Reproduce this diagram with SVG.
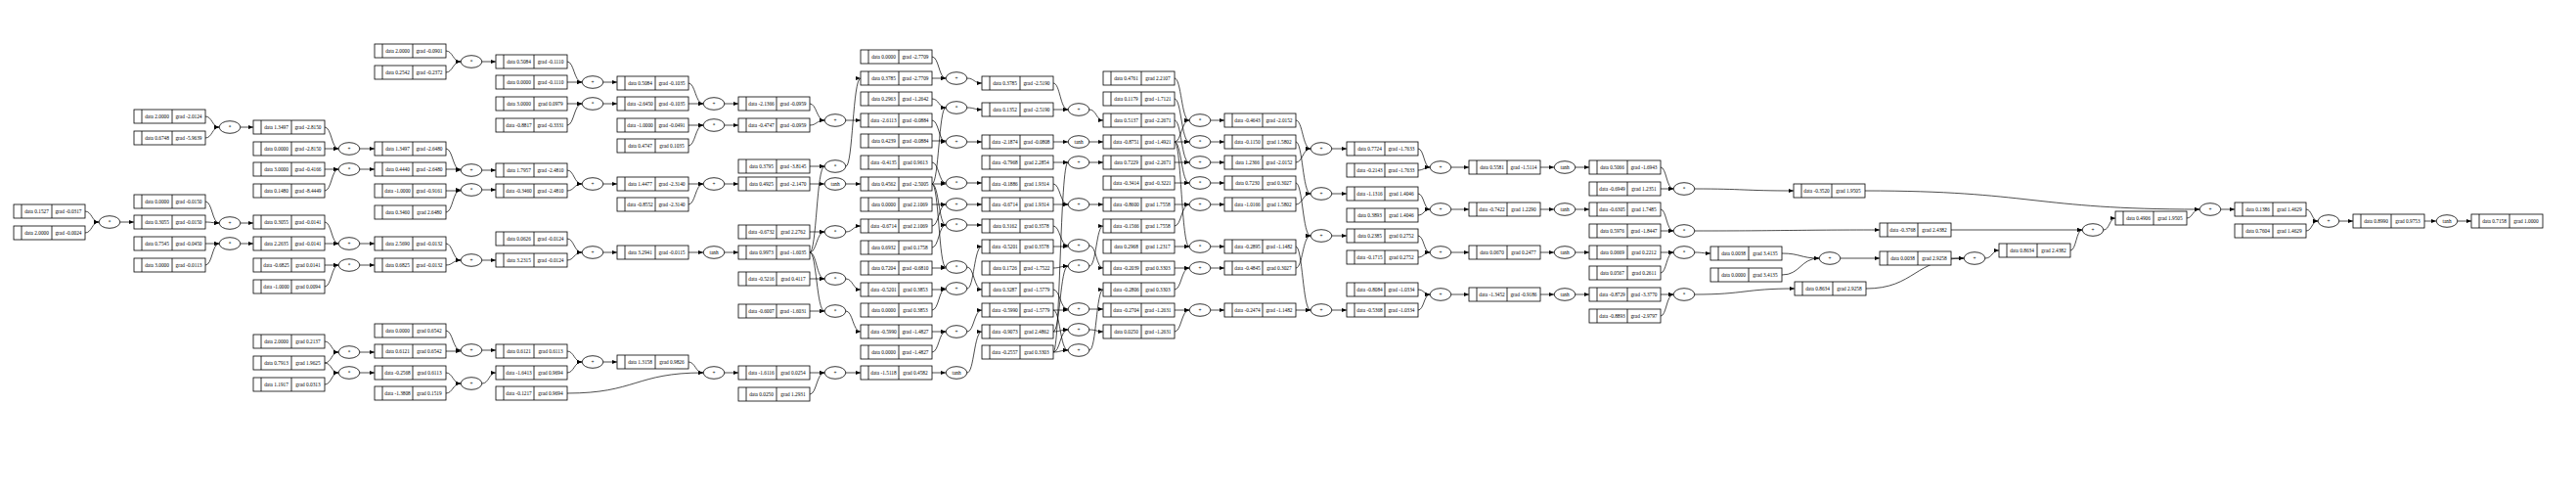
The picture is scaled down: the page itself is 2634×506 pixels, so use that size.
<svg xmlns="http://www.w3.org/2000/svg" xmlns:xlink="http://www.w3.org/1999/xlink" width="2634" height="506" viewBox="0 0 2634 506">
<style>
text{font-family:"Liberation Serif","Times New Roman",serif;font-size:5.3px;text-anchor:middle;fill:#000}
ellipse{fill:#fff;stroke:#000;stroke-width:.8}
#edges path{fill:none;stroke:#000;stroke-width:.7;marker-end:url(#a)}
</style>
<defs>
<marker id="a" markerWidth="5" markerHeight="4" refX="5" refY="2" orient="auto" markerUnits="userSpaceOnUse"><path d="M0 0L5 2L0 4z" fill="#000"/></marker>
<g id="rec"><rect width="73" height="14" fill="#fff" stroke="#000" stroke-width=".8"/><path d="M8 0v14M39 0v14" stroke="#000" stroke-width=".8"/></g>
</defs>
<rect width="2634" height="506" fill="#fff"/>
<g id="edges">
<path d="M87 216C94 216 94 227 101 227"/><path d="M87 238C94 238 94 227 101 227"/><path d="M123 227H137"/>
<path d="M210 119C217 119 217 130 224 130"/><path d="M210 141C217 141 217 130 224 130"/><path d="M246 130H259"/>
<path d="M210 206C217 206 217 228 224 228"/><path d="M210 227C217 227 217 228 224 228"/><path d="M246 228H259"/>
<path d="M210 249H224"/><path d="M210 271C217 271 217 249 224 249"/><path d="M246 249H259"/>
<path d="M332 130C339 130 339 152 346 152"/><path d="M332 152H346"/><path d="M368 152H383"/>
<path d="M332 173H346"/><path d="M332 195C339 195 339 173 346 173"/><path d="M368 173H383"/>
<path d="M332 227C339 227 339 249 346 249"/><path d="M332 249H346"/><path d="M368 249H383"/>
<path d="M332 271H346"/><path d="M332 293C339 293 339 271 346 271"/><path d="M368 271H383"/>
<path d="M332 349C339 349 339 360 346 360"/><path d="M332 371C339 371 339 360 346 360"/><path d="M368 360H383"/>
<path d="M332 371C339 371 339 381 346 381"/><path d="M332 393C339 393 339 381 346 381"/><path d="M368 381H383"/>
<path d="M456 52C463 52 463 63 471 63"/><path d="M456 74C463 74 463 63 471 63"/><path d="M493 63H507"/>
<path d="M456 152C463 152 463 174 471 174"/><path d="M456 173H471"/><path d="M493 174H507"/>
<path d="M456 195H471"/><path d="M456 217C463 217 463 194 471 194"/><path d="M493 194H507"/>
<path d="M456 249C463 249 463 266 471 266"/><path d="M456 271C463 271 463 266 471 266"/><path d="M493 266H507"/>
<path d="M456 338C463 338 463 358 471 358"/><path d="M456 359H471"/><path d="M493 358H507"/>
<path d="M456 381C463 381 463 392 471 392"/><path d="M456 402C463 402 463 392 471 392"/><path d="M493 392C500 392 500 381 507 381"/>
<path d="M580 63C587 63 587 84 595 84"/><path d="M580 84H595"/><path d="M617 84H631"/>
<path d="M580 106H595"/><path d="M580 128C587 128 587 106 595 106"/><path d="M617 106H631"/>
<path d="M580 174C587 174 587 188 595 188"/><path d="M580 195C587 195 587 188 595 188"/><path d="M617 188H631"/>
<path d="M580 244C587 244 587 258 595 258"/><path d="M580 266C587 266 587 258 595 258"/><path d="M617 258H631"/>
<path d="M580 359C587 359 587 370 595 370"/><path d="M580 381C587 381 587 370 595 370"/><path d="M617 370H631"/>
<path d="M704 85C711 85 711 106 719 106"/><path d="M704 106H719"/><path d="M741 106H755"/>
<path d="M704 128H719"/><path d="M704 149C711 149 711 128 719 128"/><path d="M741 128H755"/>
<path d="M704 188H719"/><path d="M704 209C711 209 711 188 719 188"/><path d="M741 188H755"/>
<path d="M704 258H719"/><path d="M741 258H755"/>
<path d="M704 370C711 370 711 381 719 381"/><path d="M580 402C650 402 650 381 719 381"/><path d="M741 381H755"/>
<path d="M828 106C835 106 835 123 843 123"/><path d="M828 128C835 128 835 123 843 123"/><path d="M865 123H880"/>
<path d="M828 170H843"/><path d="M828 258C835 258 835 170 843 170"/><path d="M865 170C872 170 872 80 880 80"/>
<path d="M828 188H843"/><path d="M865 188H880"/>
<path d="M828 237H843"/><path d="M828 258C835 258 835 237 843 237"/><path d="M865 237C872 237 872 231 880 231"/>
<path d="M828 285H843"/><path d="M828 258C835 258 835 285 843 285"/><path d="M865 285C872 285 872 296 880 296"/>
<path d="M828 318H843"/><path d="M828 258C835 258 835 318 843 318"/><path d="M865 318C872 318 872 339 880 339"/>
<path d="M828 381H843"/><path d="M828 403C835 403 835 381 843 381"/><path d="M865 381H880"/>
<path d="M953 58C960 58 960 80 967 80"/><path d="M953 80H967"/><path d="M989 80C996 80 996 85 1004 85"/>
<path d="M953 101C960 101 960 110 967 110"/><path d="M953 188C960 188 960 110 967 110"/><path d="M989 110C996 110 996 112 1004 112"/>
<path d="M953 123C960 123 960 145 967 145"/><path d="M953 144H967"/><path d="M989 145H1004"/>
<path d="M953 166C960 166 960 187 967 187"/><path d="M953 188H967"/><path d="M989 187H1004"/>
<path d="M953 209H967"/><path d="M953 231C960 231 960 209 967 209"/><path d="M989 209H1004"/>
<path d="M953 188C960 188 960 230 967 230"/><path d="M953 253C960 253 960 230 967 230"/><path d="M989 230H1004"/>
<path d="M953 274H967"/><path d="M953 188C960 188 960 273 967 273"/><path d="M989 273C996 273 996 296 1004 296"/>
<path d="M953 296H967"/><path d="M953 317C960 317 960 295 967 295"/><path d="M989 295C996 295 996 252 1004 252"/>
<path d="M953 339H967"/><path d="M953 360C960 360 960 339 967 339"/><path d="M989 339C996 339 996 317 1004 317"/>
<path d="M953 381H967"/><path d="M989 381C996 381 996 339 1004 339"/>
<path d="M1077 85C1084 85 1084 112 1092 112"/><path d="M1077 112H1092"/><path d="M1114 112C1121 112 1121 123 1128 123"/>
<path d="M1077 145H1092"/><path d="M1114 145H1128"/>
<path d="M1077 166H1092"/><path d="M1077 360C1084 360 1084 166 1092 166"/><path d="M1114 166H1128"/>
<path d="M1077 188C1084 188 1084 209 1092 209"/><path d="M1077 209H1092"/><path d="M1114 209H1128"/>
<path d="M1077 231C1084 231 1084 251 1092 251"/><path d="M1077 252H1092"/><path d="M1114 251C1121 251 1121 274 1128 274"/>
<path d="M1077 274C1084 274 1084 272 1092 272"/><path d="M1077 339C1084 339 1084 272 1092 272"/><path d="M1114 272C1121 272 1121 231 1128 231"/>
<path d="M1077 296C1084 296 1084 316 1092 316"/><path d="M1077 317H1092"/><path d="M1114 316H1128"/>
<path d="M1077 339C1084 339 1084 337 1092 337"/><path d="M1077 360C1084 360 1084 337 1092 337"/><path d="M1114 337C1121 337 1121 339 1128 339"/>
<path d="M1077 317C1084 317 1084 358 1092 358"/><path d="M1077 360C1084 360 1084 358 1092 358"/><path d="M1114 358C1121 358 1121 296 1128 296"/>
<path d="M1201 80C1208 80 1208 123 1216 123"/><path d="M1201 145C1208 145 1208 123 1216 123"/><path d="M1238 123H1252"/>
<path d="M1201 101C1208 101 1208 145 1216 145"/><path d="M1201 145H1216"/><path d="M1238 145H1252"/>
<path d="M1201 123C1208 123 1208 166 1216 166"/><path d="M1201 166H1216"/><path d="M1238 166H1252"/>
<path d="M1201 187H1216"/><path d="M1201 145C1208 145 1208 187 1216 187"/><path d="M1238 187H1252"/>
<path d="M1201 209H1216"/><path d="M1201 231C1208 231 1208 209 1216 209"/><path d="M1238 209H1252"/>
<path d="M1201 252H1216"/><path d="M1201 145C1208 145 1208 252 1216 252"/><path d="M1238 252H1252"/>
<path d="M1201 274H1216"/><path d="M1201 296C1208 296 1208 274 1216 274"/><path d="M1238 274H1252"/>
<path d="M1201 317H1216"/><path d="M1201 339C1208 339 1208 317 1216 317"/><path d="M1238 317H1252"/>
<path d="M1325 123C1332 123 1332 152 1340 152"/><path d="M1325 166C1332 166 1332 152 1340 152"/><path d="M1362 152H1377"/>
<path d="M1325 145C1332 145 1332 198 1340 198"/><path d="M1325 209C1332 209 1332 198 1340 198"/><path d="M1362 198H1377"/>
<path d="M1325 187C1332 187 1332 241 1340 241"/><path d="M1325 274C1332 274 1332 241 1340 241"/><path d="M1362 241H1377"/>
<path d="M1325 252C1332 252 1332 317 1340 317"/><path d="M1325 317H1340"/><path d="M1362 317H1377"/>
<path d="M1450 152C1456 152 1456 171 1462 171"/><path d="M1450 174C1456 174 1456 171 1462 171"/><path d="M1484 171H1502"/>
<path d="M1450 198C1456 198 1456 214 1462 214"/><path d="M1450 220C1456 220 1456 214 1462 214"/><path d="M1484 214H1502"/>
<path d="M1450 241C1456 241 1456 258 1462 258"/><path d="M1450 263C1456 263 1456 258 1462 258"/><path d="M1484 258H1502"/>
<path d="M1450 296C1456 296 1456 301 1462 301"/><path d="M1450 317C1456 317 1456 301 1462 301"/><path d="M1484 301H1502"/>
<path d="M1575 171H1589"/><path d="M1611 171H1625"/>
<path d="M1575 214H1589"/><path d="M1611 214H1625"/>
<path d="M1575 258H1589"/><path d="M1611 258H1625"/>
<path d="M1575 301H1589"/><path d="M1611 301H1625"/>
<path d="M1698 171C1704 171 1704 193 1711 193"/><path d="M1698 193H1711"/><path d="M1733 193C1783 193 1783 195 1834 195"/>
<path d="M1698 214C1704 214 1704 236 1711 236"/><path d="M1698 236H1711"/><path d="M1733 236C1830 236 1830 235 1922 235"/>
<path d="M1698 258H1711"/><path d="M1698 279C1704 279 1704 258 1711 258"/><path d="M1733 258C1741 258 1741 259 1749 259"/>
<path d="M1698 301H1711"/><path d="M1698 323C1704 323 1704 301 1711 301"/><path d="M1733 301C1784 301 1784 295 1835 295"/>
<path d="M1822 259C1841 259 1841 264 1860 264"/><path d="M1822 281C1841 281 1841 264 1860 264"/><path d="M1882 264H1922"/>
<path d="M1995 264H2008"/><path d="M1908 295C1958 295 1958 264 2008 264"/><path d="M2030 264C2037 264 2037 256 2044 256"/>
<path d="M1995 235H2129"/><path d="M2117 256C2123 256 2123 235 2129 235"/><path d="M2151 235C2157 235 2157 223 2163 223"/>
<path d="M1907 195C2078 195 2078 214 2249 214"/><path d="M2236 223C2242 223 2242 214 2249 214"/><path d="M2271 214H2285"/>
<path d="M2358 214C2364 214 2364 226 2370 226"/><path d="M2358 236C2364 236 2364 226 2370 226"/><path d="M2392 226H2406"/>
<path d="M2479 226H2491"/><path d="M2513 226H2527"/>
</g>
<g id="X1" transform="translate(14,209)"><use href="#rec"/><text x="23.5" y="9">data 0.1527</text><text x="56" y="9">grad -0.0317</text></g>
<g id="X2" transform="translate(14,231)"><use href="#rec"/><text x="23.5" y="9">data 2.0000</text><text x="56" y="9">grad -0.0024</text></g>
<g id="A1" transform="translate(137,112)"><use href="#rec"/><text x="23.5" y="9">data 2.0000</text><text x="56" y="9">grad -2.0124</text></g>
<g id="A2" transform="translate(137,134)"><use href="#rec"/><text x="23.5" y="9">data 0.6748</text><text x="56" y="9">grad -5.9639</text></g>
<g id="B1" transform="translate(137,199)"><use href="#rec"/><text x="23.5" y="9">data 0.0000</text><text x="56" y="9">grad -0.0150</text></g>
<g id="B2" transform="translate(137,220)"><use href="#rec"/><text x="23.5" y="9">data 0.3055</text><text x="56" y="9">grad -0.0150</text></g>
<g id="B3" transform="translate(137,242)"><use href="#rec"/><text x="23.5" y="9">data 0.7545</text><text x="56" y="9">grad -0.0450</text></g>
<g id="B4" transform="translate(137,264)"><use href="#rec"/><text x="23.5" y="9">data 3.0000</text><text x="56" y="9">grad -0.0113</text></g>
<g id="C1" transform="translate(259,123)"><use href="#rec"/><text x="23.5" y="9">data 1.3497</text><text x="56" y="9">grad -2.8150</text></g>
<g id="C2" transform="translate(259,145)"><use href="#rec"/><text x="23.5" y="9">data 0.0000</text><text x="56" y="9">grad -2.8150</text></g>
<g id="C3" transform="translate(259,166)"><use href="#rec"/><text x="23.5" y="9">data 3.0000</text><text x="56" y="9">grad -0.4166</text></g>
<g id="C4" transform="translate(259,188)"><use href="#rec"/><text x="23.5" y="9">data 0.1480</text><text x="56" y="9">grad -8.4449</text></g>
<g id="C5" transform="translate(259,220)"><use href="#rec"/><text x="23.5" y="9">data 0.3055</text><text x="56" y="9">grad -0.0141</text></g>
<g id="C6" transform="translate(259,242)"><use href="#rec"/><text x="23.5" y="9">data 2.2635</text><text x="56" y="9">grad -0.0141</text></g>
<g id="C7" transform="translate(259,264)"><use href="#rec"/><text x="23.5" y="9">data -0.6825</text><text x="56" y="9">grad 0.0141</text></g>
<g id="C8" transform="translate(259,286)"><use href="#rec"/><text x="23.5" y="9">data -1.0000</text><text x="56" y="9">grad 0.0094</text></g>
<g id="C9" transform="translate(259,342)"><use href="#rec"/><text x="23.5" y="9">data 2.0000</text><text x="56" y="9">grad 0.2137</text></g>
<g id="C10" transform="translate(259,364)"><use href="#rec"/><text x="23.5" y="9">data 0.7913</text><text x="56" y="9">grad 1.9625</text></g>
<g id="C11" transform="translate(259,386)"><use href="#rec"/><text x="23.5" y="9">data 1.1917</text><text x="56" y="9">grad 0.0313</text></g>
<g id="D1" transform="translate(383,45)"><use href="#rec"/><text x="23.5" y="9">data 2.0000</text><text x="56" y="9">grad -0.0901</text></g>
<g id="D2" transform="translate(383,67)"><use href="#rec"/><text x="23.5" y="9">data 0.2542</text><text x="56" y="9">grad -0.2372</text></g>
<g id="D3" transform="translate(383,145)"><use href="#rec"/><text x="23.5" y="9">data 1.3497</text><text x="56" y="9">grad -2.6480</text></g>
<g id="D4" transform="translate(383,166)"><use href="#rec"/><text x="23.5" y="9">data 0.4440</text><text x="56" y="9">grad -2.6480</text></g>
<g id="D5" transform="translate(383,188)"><use href="#rec"/><text x="23.5" y="9">data -1.0000</text><text x="56" y="9">grad -0.9161</text></g>
<g id="D6" transform="translate(383,210)"><use href="#rec"/><text x="23.5" y="9">data 0.3460</text><text x="56" y="9">grad 2.6480</text></g>
<g id="D7" transform="translate(383,242)"><use href="#rec"/><text x="23.5" y="9">data 2.5690</text><text x="56" y="9">grad -0.0132</text></g>
<g id="D8" transform="translate(383,264)"><use href="#rec"/><text x="23.5" y="9">data 0.6825</text><text x="56" y="9">grad -0.0132</text></g>
<g id="D9" transform="translate(383,331)"><use href="#rec"/><text x="23.5" y="9">data 0.0000</text><text x="56" y="9">grad 0.6542</text></g>
<g id="D10" transform="translate(383,352)"><use href="#rec"/><text x="23.5" y="9">data 0.6121</text><text x="56" y="9">grad 0.6542</text></g>
<g id="D11" transform="translate(383,374)"><use href="#rec"/><text x="23.5" y="9">data -0.2568</text><text x="56" y="9">grad 0.6113</text></g>
<g id="D12" transform="translate(383,395)"><use href="#rec"/><text x="23.5" y="9">data -1.3808</text><text x="56" y="9">grad 0.1519</text></g>
<g id="E1" transform="translate(507,56)"><use href="#rec"/><text x="23.5" y="9">data 0.5084</text><text x="56" y="9">grad -0.1110</text></g>
<g id="E2" transform="translate(507,77)"><use href="#rec"/><text x="23.5" y="9">data 0.0000</text><text x="56" y="9">grad -0.1110</text></g>
<g id="E3" transform="translate(507,99)"><use href="#rec"/><text x="23.5" y="9">data 3.0000</text><text x="56" y="9">grad 0.0979</text></g>
<g id="E4" transform="translate(507,121)"><use href="#rec"/><text x="23.5" y="9">data -0.8817</text><text x="56" y="9">grad -0.3331</text></g>
<g id="E5" transform="translate(507,167)"><use href="#rec"/><text x="23.5" y="9">data 1.7957</text><text x="56" y="9">grad -2.4810</text></g>
<g id="E6" transform="translate(507,188)"><use href="#rec"/><text x="23.5" y="9">data -0.3460</text><text x="56" y="9">grad -2.4810</text></g>
<g id="E7" transform="translate(507,237)"><use href="#rec"/><text x="23.5" y="9">data 0.0626</text><text x="56" y="9">grad -0.0124</text></g>
<g id="E8" transform="translate(507,259)"><use href="#rec"/><text x="23.5" y="9">data 3.2315</text><text x="56" y="9">grad -0.0124</text></g>
<g id="E9" transform="translate(507,352)"><use href="#rec"/><text x="23.5" y="9">data 0.6121</text><text x="56" y="9">grad 0.6113</text></g>
<g id="E10" transform="translate(507,374)"><use href="#rec"/><text x="23.5" y="9">data -1.6413</text><text x="56" y="9">grad 0.9694</text></g>
<g id="E11" transform="translate(507,395)"><use href="#rec"/><text x="23.5" y="9">data -0.1217</text><text x="56" y="9">grad 0.9694</text></g>
<g id="F1" transform="translate(631,78)"><use href="#rec"/><text x="23.5" y="9">data 0.5084</text><text x="56" y="9">grad -0.1035</text></g>
<g id="F2" transform="translate(631,99)"><use href="#rec"/><text x="23.5" y="9">data -2.6450</text><text x="56" y="9">grad -0.1035</text></g>
<g id="F3" transform="translate(631,121)"><use href="#rec"/><text x="23.5" y="9">data -1.0000</text><text x="56" y="9">grad -0.0491</text></g>
<g id="F4" transform="translate(631,142)"><use href="#rec"/><text x="23.5" y="9">data 0.4747</text><text x="56" y="9">grad 0.1035</text></g>
<g id="F5" transform="translate(631,181)"><use href="#rec"/><text x="23.5" y="9">data 1.4477</text><text x="56" y="9">grad -2.3140</text></g>
<g id="F6" transform="translate(631,202)"><use href="#rec"/><text x="23.5" y="9">data -0.8552</text><text x="56" y="9">grad -2.3140</text></g>
<g id="F7" transform="translate(631,251)"><use href="#rec"/><text x="23.5" y="9">data 3.2941</text><text x="56" y="9">grad -0.0115</text></g>
<g id="F8" transform="translate(631,363)"><use href="#rec"/><text x="23.5" y="9">data 1.3158</text><text x="56" y="9">grad 0.9826</text></g>
<g id="G1" transform="translate(755,99)"><use href="#rec"/><text x="23.5" y="9">data -2.1366</text><text x="56" y="9">grad -0.0959</text></g>
<g id="G2" transform="translate(755,121)"><use href="#rec"/><text x="23.5" y="9">data -0.4747</text><text x="56" y="9">grad -0.0959</text></g>
<g id="G3" transform="translate(755,163)"><use href="#rec"/><text x="23.5" y="9">data 0.3795</text><text x="56" y="9">grad -3.8145</text></g>
<g id="G4" transform="translate(755,181)"><use href="#rec"/><text x="23.5" y="9">data 0.4925</text><text x="56" y="9">grad -2.1470</text></g>
<g id="G5" transform="translate(755,230)"><use href="#rec"/><text x="23.5" y="9">data -0.6732</text><text x="56" y="9">grad 2.2762</text></g>
<g id="G6" transform="translate(755,251)"><use href="#rec"/><text x="23.5" y="9">data 0.9973</text><text x="56" y="9">grad -1.6035</text></g>
<g id="G7" transform="translate(755,278)"><use href="#rec"/><text x="23.5" y="9">data -0.5216</text><text x="56" y="9">grad 0.4117</text></g>
<g id="G8" transform="translate(755,311)"><use href="#rec"/><text x="23.5" y="9">data -0.6007</text><text x="56" y="9">grad -1.6031</text></g>
<g id="G9" transform="translate(755,374)"><use href="#rec"/><text x="23.5" y="9">data -1.6116</text><text x="56" y="9">grad 0.0254</text></g>
<g id="G10" transform="translate(755,396)"><use href="#rec"/><text x="23.5" y="9">data 0.0250</text><text x="56" y="9">grad 1.2931</text></g>
<g id="H1" transform="translate(880,51)"><use href="#rec"/><text x="23.5" y="9">data 0.0000</text><text x="56" y="9">grad -2.7709</text></g>
<g id="H2" transform="translate(880,73)"><use href="#rec"/><text x="23.5" y="9">data 0.3785</text><text x="56" y="9">grad -2.7709</text></g>
<g id="H3" transform="translate(880,94)"><use href="#rec"/><text x="23.5" y="9">data 0.2963</text><text x="56" y="9">grad -1.2642</text></g>
<g id="H4" transform="translate(880,116)"><use href="#rec"/><text x="23.5" y="9">data -2.6113</text><text x="56" y="9">grad -0.0884</text></g>
<g id="H5" transform="translate(880,137)"><use href="#rec"/><text x="23.5" y="9">data 0.4239</text><text x="56" y="9">grad -0.0884</text></g>
<g id="H6" transform="translate(880,159)"><use href="#rec"/><text x="23.5" y="9">data -0.4135</text><text x="56" y="9">grad 0.9613</text></g>
<g id="H7" transform="translate(880,181)"><use href="#rec"/><text x="23.5" y="9">data 0.4562</text><text x="56" y="9">grad -2.5005</text></g>
<g id="H8" transform="translate(880,202)"><use href="#rec"/><text x="23.5" y="9">data 0.0000</text><text x="56" y="9">grad 2.1069</text></g>
<g id="H9" transform="translate(880,224)"><use href="#rec"/><text x="23.5" y="9">data -0.6714</text><text x="56" y="9">grad 2.1069</text></g>
<g id="H10" transform="translate(880,246)"><use href="#rec"/><text x="23.5" y="9">data 0.6932</text><text x="56" y="9">grad 0.1758</text></g>
<g id="H11" transform="translate(880,267)"><use href="#rec"/><text x="23.5" y="9">data 0.7204</text><text x="56" y="9">grad -0.6810</text></g>
<g id="H12" transform="translate(880,289)"><use href="#rec"/><text x="23.5" y="9">data -0.5201</text><text x="56" y="9">grad 0.3853</text></g>
<g id="H13" transform="translate(880,310)"><use href="#rec"/><text x="23.5" y="9">data 0.0000</text><text x="56" y="9">grad 0.3853</text></g>
<g id="H14" transform="translate(880,332)"><use href="#rec"/><text x="23.5" y="9">data -0.5990</text><text x="56" y="9">grad -1.4827</text></g>
<g id="H15" transform="translate(880,353)"><use href="#rec"/><text x="23.5" y="9">data 0.0000</text><text x="56" y="9">grad -1.4827</text></g>
<g id="H16" transform="translate(880,374)"><use href="#rec"/><text x="23.5" y="9">data -1.5118</text><text x="56" y="9">grad 0.4582</text></g>
<g id="I1" transform="translate(1004,78)"><use href="#rec"/><text x="23.5" y="9">data 0.3785</text><text x="56" y="9">grad -2.5190</text></g>
<g id="I2" transform="translate(1004,105)"><use href="#rec"/><text x="23.5" y="9">data 0.1352</text><text x="56" y="9">grad -2.5190</text></g>
<g id="I3" transform="translate(1004,138)"><use href="#rec"/><text x="23.5" y="9">data -2.1874</text><text x="56" y="9">grad -0.0808</text></g>
<g id="I4" transform="translate(1004,159)"><use href="#rec"/><text x="23.5" y="9">data -0.7968</text><text x="56" y="9">grad 2.2854</text></g>
<g id="I5" transform="translate(1004,181)"><use href="#rec"/><text x="23.5" y="9">data -0.1886</text><text x="56" y="9">grad 1.9314</text></g>
<g id="I6" transform="translate(1004,202)"><use href="#rec"/><text x="23.5" y="9">data -0.6714</text><text x="56" y="9">grad 1.9314</text></g>
<g id="I7" transform="translate(1004,224)"><use href="#rec"/><text x="23.5" y="9">data 0.3162</text><text x="56" y="9">grad 0.3578</text></g>
<g id="I8" transform="translate(1004,245)"><use href="#rec"/><text x="23.5" y="9">data -0.5201</text><text x="56" y="9">grad 0.3578</text></g>
<g id="I9" transform="translate(1004,267)"><use href="#rec"/><text x="23.5" y="9">data 0.1726</text><text x="56" y="9">grad -1.7522</text></g>
<g id="I10" transform="translate(1004,289)"><use href="#rec"/><text x="23.5" y="9">data 0.3287</text><text x="56" y="9">grad -1.5779</text></g>
<g id="I11" transform="translate(1004,310)"><use href="#rec"/><text x="23.5" y="9">data -0.5990</text><text x="56" y="9">grad -1.5779</text></g>
<g id="I12" transform="translate(1004,332)"><use href="#rec"/><text x="23.5" y="9">data -0.9073</text><text x="56" y="9">grad 2.4862</text></g>
<g id="I13" transform="translate(1004,353)"><use href="#rec"/><text x="23.5" y="9">data -0.2557</text><text x="56" y="9">grad 0.3303</text></g>
<g id="J1" transform="translate(1128,73)"><use href="#rec"/><text x="23.5" y="9">data 0.4761</text><text x="56" y="9">grad 2.2107</text></g>
<g id="J2" transform="translate(1128,94)"><use href="#rec"/><text x="23.5" y="9">data 0.1179</text><text x="56" y="9">grad -1.7121</text></g>
<g id="J3" transform="translate(1128,116)"><use href="#rec"/><text x="23.5" y="9">data 0.5137</text><text x="56" y="9">grad -2.2671</text></g>
<g id="J4" transform="translate(1128,138)"><use href="#rec"/><text x="23.5" y="9">data -0.8751</text><text x="56" y="9">grad -1.4921</text></g>
<g id="J5" transform="translate(1128,159)"><use href="#rec"/><text x="23.5" y="9">data 0.7229</text><text x="56" y="9">grad -2.2671</text></g>
<g id="J6" transform="translate(1128,180)"><use href="#rec"/><text x="23.5" y="9">data -0.3414</text><text x="56" y="9">grad -0.3221</text></g>
<g id="J7" transform="translate(1128,202)"><use href="#rec"/><text x="23.5" y="9">data -0.8600</text><text x="56" y="9">grad 1.7558</text></g>
<g id="J8" transform="translate(1128,224)"><use href="#rec"/><text x="23.5" y="9">data -0.1566</text><text x="56" y="9">grad 1.7558</text></g>
<g id="J9" transform="translate(1128,245)"><use href="#rec"/><text x="23.5" y="9">data 0.2968</text><text x="56" y="9">grad 1.2317</text></g>
<g id="J10" transform="translate(1128,267)"><use href="#rec"/><text x="23.5" y="9">data -0.2039</text><text x="56" y="9">grad 0.3303</text></g>
<g id="J11" transform="translate(1128,289)"><use href="#rec"/><text x="23.5" y="9">data -0.2806</text><text x="56" y="9">grad 0.3303</text></g>
<g id="J12" transform="translate(1128,310)"><use href="#rec"/><text x="23.5" y="9">data -0.2704</text><text x="56" y="9">grad -1.2631</text></g>
<g id="J13" transform="translate(1128,332)"><use href="#rec"/><text x="23.5" y="9">data 0.0250</text><text x="56" y="9">grad -1.2631</text></g>
<g id="K1" transform="translate(1252,116)"><use href="#rec"/><text x="23.5" y="9">data -0.4643</text><text x="56" y="9">grad -2.0152</text></g>
<g id="K2" transform="translate(1252,138)"><use href="#rec"/><text x="23.5" y="9">data -0.1150</text><text x="56" y="9">grad 1.5802</text></g>
<g id="K3" transform="translate(1252,159)"><use href="#rec"/><text x="23.5" y="9">data 1.2366</text><text x="56" y="9">grad -2.0152</text></g>
<g id="K4" transform="translate(1252,180)"><use href="#rec"/><text x="23.5" y="9">data 0.7230</text><text x="56" y="9">grad 0.3027</text></g>
<g id="K5" transform="translate(1252,202)"><use href="#rec"/><text x="23.5" y="9">data -1.0166</text><text x="56" y="9">grad 1.5802</text></g>
<g id="K6" transform="translate(1252,245)"><use href="#rec"/><text x="23.5" y="9">data -0.2895</text><text x="56" y="9">grad -1.1482</text></g>
<g id="K7" transform="translate(1252,267)"><use href="#rec"/><text x="23.5" y="9">data -0.4845</text><text x="56" y="9">grad 0.3027</text></g>
<g id="K8" transform="translate(1252,310)"><use href="#rec"/><text x="23.5" y="9">data -0.2474</text><text x="56" y="9">grad -1.1482</text></g>
<g id="La1" transform="translate(1377,145)"><use href="#rec"/><text x="23.5" y="9">data 0.7724</text><text x="56" y="9">grad -1.7633</text></g>
<g id="La2" transform="translate(1377,167)"><use href="#rec"/><text x="23.5" y="9">data -0.2143</text><text x="56" y="9">grad -1.7633</text></g>
<g id="La3" transform="translate(1377,191)"><use href="#rec"/><text x="23.5" y="9">data -1.1316</text><text x="56" y="9">grad 1.4046</text></g>
<g id="La4" transform="translate(1377,213)"><use href="#rec"/><text x="23.5" y="9">data 0.3893</text><text x="56" y="9">grad 1.4046</text></g>
<g id="La5" transform="translate(1377,234)"><use href="#rec"/><text x="23.5" y="9">data 0.2385</text><text x="56" y="9">grad 0.2752</text></g>
<g id="La6" transform="translate(1377,256)"><use href="#rec"/><text x="23.5" y="9">data -0.1715</text><text x="56" y="9">grad 0.2752</text></g>
<g id="La7" transform="translate(1377,289)"><use href="#rec"/><text x="23.5" y="9">data -0.8084</text><text x="56" y="9">grad -1.0334</text></g>
<g id="La8" transform="translate(1377,310)"><use href="#rec"/><text x="23.5" y="9">data -0.5368</text><text x="56" y="9">grad -1.0334</text></g>
<g id="M1" transform="translate(1502,164)"><use href="#rec"/><text x="23.5" y="9">data 0.5581</text><text x="56" y="9">grad -1.5114</text></g>
<g id="M2" transform="translate(1502,207)"><use href="#rec"/><text x="23.5" y="9">data -0.7422</text><text x="56" y="9">grad 1.2290</text></g>
<g id="M3" transform="translate(1502,251)"><use href="#rec"/><text x="23.5" y="9">data 0.0670</text><text x="56" y="9">grad 0.2477</text></g>
<g id="M4" transform="translate(1502,294)"><use href="#rec"/><text x="23.5" y="9">data -1.3452</text><text x="56" y="9">grad -0.9186</text></g>
<g id="N1" transform="translate(1625,164)"><use href="#rec"/><text x="23.5" y="9">data 0.5066</text><text x="56" y="9">grad -1.6943</text></g>
<g id="N2" transform="translate(1625,186)"><use href="#rec"/><text x="23.5" y="9">data -0.6949</text><text x="56" y="9">grad 1.2351</text></g>
<g id="N3" transform="translate(1625,207)"><use href="#rec"/><text x="23.5" y="9">data -0.6305</text><text x="56" y="9">grad 1.7485</text></g>
<g id="N4" transform="translate(1625,229)"><use href="#rec"/><text x="23.5" y="9">data 0.5976</text><text x="56" y="9">grad -1.8447</text></g>
<g id="N5" transform="translate(1625,251)"><use href="#rec"/><text x="23.5" y="9">data 0.0669</text><text x="56" y="9">grad 0.2212</text></g>
<g id="N6" transform="translate(1625,272)"><use href="#rec"/><text x="23.5" y="9">data 0.0567</text><text x="56" y="9">grad 0.2611</text></g>
<g id="N7" transform="translate(1625,294)"><use href="#rec"/><text x="23.5" y="9">data -0.8729</text><text x="56" y="9">grad -3.3770</text></g>
<g id="N8" transform="translate(1625,316)"><use href="#rec"/><text x="23.5" y="9">data -0.8893</text><text x="56" y="9">grad -2.9797</text></g>
<g id="O1" transform="translate(1834,188)"><use href="#rec"/><text x="23.5" y="9">data -0.3520</text><text x="56" y="9">grad 1.9505</text></g>
<g id="O2" transform="translate(1922,228)"><use href="#rec"/><text x="23.5" y="9">data -0.3768</text><text x="56" y="9">grad 2.4382</text></g>
<g id="O3" transform="translate(1749,252)"><use href="#rec"/><text x="23.5" y="9">data 0.0038</text><text x="56" y="9">grad 3.4135</text></g>
<g id="O4" transform="translate(1749,274)"><use href="#rec"/><text x="23.5" y="9">data 0.0000</text><text x="56" y="9">grad 3.4135</text></g>
<g id="O5" transform="translate(1922,257)"><use href="#rec"/><text x="23.5" y="9">data 0.0038</text><text x="56" y="9">grad 2.9258</text></g>
<g id="O6" transform="translate(1835,288)"><use href="#rec"/><text x="23.5" y="9">data 0.8634</text><text x="56" y="9">grad 2.9258</text></g>
<g id="P1" transform="translate(2044,249)"><use href="#rec"/><text x="23.5" y="9">data 0.8634</text><text x="56" y="9">grad 2.4382</text></g>
<g id="Q1" transform="translate(2163,216)"><use href="#rec"/><text x="23.5" y="9">data 0.4906</text><text x="56" y="9">grad 1.9505</text></g>
<g id="R1" transform="translate(2285,207)"><use href="#rec"/><text x="23.5" y="9">data 0.1386</text><text x="56" y="9">grad 1.4629</text></g>
<g id="R2" transform="translate(2285,229)"><use href="#rec"/><text x="23.5" y="9">data 0.7604</text><text x="56" y="9">grad 1.4629</text></g>
<g id="S1" transform="translate(2406,219)"><use href="#rec"/><text x="23.5" y="9">data 0.8990</text><text x="56" y="9">grad 0.9753</text></g>
<g id="T1" transform="translate(2527,219)"><use href="#rec"/><text x="23.5" y="9">data 0.7158</text><text x="56" y="9">grad 1.0000</text></g>
<g id="o1"><ellipse cx="112" cy="227" rx="10.8" ry="6.3"/><text x="112" y="229">*</text></g>
<g id="o2"><ellipse cx="235" cy="130" rx="10.8" ry="6.3"/><text x="235" y="132">*</text></g>
<g id="o3"><ellipse cx="235" cy="228" rx="10.8" ry="6.3"/><text x="235" y="230">+</text></g>
<g id="o4"><ellipse cx="235" cy="249" rx="10.8" ry="6.3"/><text x="235" y="251">*</text></g>
<g id="o5"><ellipse cx="357" cy="152" rx="10.8" ry="6.3"/><text x="357" y="154">+</text></g>
<g id="o6"><ellipse cx="357" cy="173" rx="10.8" ry="6.3"/><text x="357" y="175">*</text></g>
<g id="o7"><ellipse cx="357" cy="249" rx="10.8" ry="6.3"/><text x="357" y="251">+</text></g>
<g id="o8"><ellipse cx="357" cy="271" rx="10.8" ry="6.3"/><text x="357" y="273">*</text></g>
<g id="o9"><ellipse cx="357" cy="360" rx="10.8" ry="6.3"/><text x="357" y="362">*</text></g>
<g id="o10"><ellipse cx="357" cy="381" rx="10.8" ry="6.3"/><text x="357" y="383">*</text></g>
<g id="o11"><ellipse cx="482" cy="63" rx="10.8" ry="6.3"/><text x="482" y="65">*</text></g>
<g id="o12"><ellipse cx="482" cy="174" rx="10.8" ry="6.3"/><text x="482" y="176">+</text></g>
<g id="o13"><ellipse cx="482" cy="194" rx="10.8" ry="6.3"/><text x="482" y="196">*</text></g>
<g id="o14"><ellipse cx="482" cy="266" rx="10.8" ry="6.3"/><text x="482" y="268">+</text></g>
<g id="o15"><ellipse cx="482" cy="358" rx="10.8" ry="6.3"/><text x="482" y="360">+</text></g>
<g id="o16"><ellipse cx="482" cy="392" rx="10.8" ry="6.3"/><text x="482" y="394">+</text></g>
<g id="o17"><ellipse cx="606" cy="84" rx="10.8" ry="6.3"/><text x="606" y="86">+</text></g>
<g id="o18"><ellipse cx="606" cy="106" rx="10.8" ry="6.3"/><text x="606" y="108">*</text></g>
<g id="o19"><ellipse cx="606" cy="188" rx="10.8" ry="6.3"/><text x="606" y="190">+</text></g>
<g id="o20"><ellipse cx="606" cy="258" rx="10.8" ry="6.3"/><text x="606" y="260">+</text></g>
<g id="o21"><ellipse cx="606" cy="370" rx="10.8" ry="6.3"/><text x="606" y="372">+</text></g>
<g id="o22"><ellipse cx="730" cy="106" rx="10.8" ry="6.3"/><text x="730" y="108">+</text></g>
<g id="o23"><ellipse cx="730" cy="128" rx="10.8" ry="6.3"/><text x="730" y="130">*</text></g>
<g id="o24"><ellipse cx="730" cy="188" rx="10.8" ry="6.3"/><text x="730" y="190">+</text></g>
<g id="o25"><ellipse cx="730" cy="258" rx="10.8" ry="6.3"/><text x="730" y="260">tanh</text></g>
<g id="o26"><ellipse cx="730" cy="381" rx="10.8" ry="6.3"/><text x="730" y="383">+</text></g>
<g id="o27"><ellipse cx="854" cy="123" rx="10.8" ry="6.3"/><text x="854" y="125">+</text></g>
<g id="o28"><ellipse cx="854" cy="170" rx="10.8" ry="6.3"/><text x="854" y="172">*</text></g>
<g id="o29"><ellipse cx="854" cy="188" rx="10.8" ry="6.3"/><text x="854" y="190">tanh</text></g>
<g id="o30"><ellipse cx="854" cy="237" rx="10.8" ry="6.3"/><text x="854" y="239">*</text></g>
<g id="o31"><ellipse cx="854" cy="285" rx="10.8" ry="6.3"/><text x="854" y="287">*</text></g>
<g id="o32"><ellipse cx="854" cy="318" rx="10.8" ry="6.3"/><text x="854" y="320">*</text></g>
<g id="o33"><ellipse cx="854" cy="381" rx="10.8" ry="6.3"/><text x="854" y="383">+</text></g>
<g id="o34"><ellipse cx="978" cy="80" rx="10.8" ry="6.3"/><text x="978" y="82">+</text></g>
<g id="o35"><ellipse cx="978" cy="110" rx="10.8" ry="6.3"/><text x="978" y="112">*</text></g>
<g id="o36"><ellipse cx="978" cy="145" rx="10.8" ry="6.3"/><text x="978" y="147">+</text></g>
<g id="o37"><ellipse cx="978" cy="187" rx="10.8" ry="6.3"/><text x="978" y="189">*</text></g>
<g id="o38"><ellipse cx="978" cy="209" rx="10.8" ry="6.3"/><text x="978" y="211">+</text></g>
<g id="o39"><ellipse cx="978" cy="230" rx="10.8" ry="6.3"/><text x="978" y="232">*</text></g>
<g id="o40"><ellipse cx="978" cy="273" rx="10.8" ry="6.3"/><text x="978" y="275">*</text></g>
<g id="o41"><ellipse cx="978" cy="295" rx="10.8" ry="6.3"/><text x="978" y="297">+</text></g>
<g id="o42"><ellipse cx="978" cy="339" rx="10.8" ry="6.3"/><text x="978" y="341">+</text></g>
<g id="o43"><ellipse cx="978" cy="381" rx="10.8" ry="6.3"/><text x="978" y="383">tanh</text></g>
<g id="o44"><ellipse cx="1103" cy="112" rx="10.8" ry="6.3"/><text x="1103" y="114">+</text></g>
<g id="o45"><ellipse cx="1103" cy="145" rx="10.8" ry="6.3"/><text x="1103" y="147">tanh</text></g>
<g id="o46"><ellipse cx="1103" cy="166" rx="10.8" ry="6.3"/><text x="1103" y="168">+</text></g>
<g id="o47"><ellipse cx="1103" cy="209" rx="10.8" ry="6.3"/><text x="1103" y="211">+</text></g>
<g id="o48"><ellipse cx="1103" cy="251" rx="10.8" ry="6.3"/><text x="1103" y="253">+</text></g>
<g id="o49"><ellipse cx="1103" cy="272" rx="10.8" ry="6.3"/><text x="1103" y="274">*</text></g>
<g id="o50"><ellipse cx="1103" cy="316" rx="10.8" ry="6.3"/><text x="1103" y="318">+</text></g>
<g id="o51"><ellipse cx="1103" cy="337" rx="10.8" ry="6.3"/><text x="1103" y="339">+</text></g>
<g id="o52"><ellipse cx="1103" cy="358" rx="10.8" ry="6.3"/><text x="1103" y="360">+</text></g>
<g id="o53"><ellipse cx="1227" cy="123" rx="10.8" ry="6.3"/><text x="1227" y="125">*</text></g>
<g id="o54"><ellipse cx="1227" cy="145" rx="10.8" ry="6.3"/><text x="1227" y="147">*</text></g>
<g id="o55"><ellipse cx="1227" cy="166" rx="10.8" ry="6.3"/><text x="1227" y="168">+</text></g>
<g id="o56"><ellipse cx="1227" cy="187" rx="10.8" ry="6.3"/><text x="1227" y="189">*</text></g>
<g id="o57"><ellipse cx="1227" cy="209" rx="10.8" ry="6.3"/><text x="1227" y="211">+</text></g>
<g id="o58"><ellipse cx="1227" cy="252" rx="10.8" ry="6.3"/><text x="1227" y="254">*</text></g>
<g id="o59"><ellipse cx="1227" cy="274" rx="10.8" ry="6.3"/><text x="1227" y="276">+</text></g>
<g id="o60"><ellipse cx="1227" cy="317" rx="10.8" ry="6.3"/><text x="1227" y="319">+</text></g>
<g id="o61"><ellipse cx="1351" cy="152" rx="10.8" ry="6.3"/><text x="1351" y="154">+</text></g>
<g id="o62"><ellipse cx="1351" cy="198" rx="10.8" ry="6.3"/><text x="1351" y="200">+</text></g>
<g id="o63"><ellipse cx="1351" cy="241" rx="10.8" ry="6.3"/><text x="1351" y="243">+</text></g>
<g id="o64"><ellipse cx="1351" cy="317" rx="10.8" ry="6.3"/><text x="1351" y="319">+</text></g>
<g id="o65"><ellipse cx="1473" cy="171" rx="10.8" ry="6.3"/><text x="1473" y="173">+</text></g>
<g id="o66"><ellipse cx="1473" cy="214" rx="10.8" ry="6.3"/><text x="1473" y="216">+</text></g>
<g id="o67"><ellipse cx="1473" cy="258" rx="10.8" ry="6.3"/><text x="1473" y="260">+</text></g>
<g id="o68"><ellipse cx="1473" cy="301" rx="10.8" ry="6.3"/><text x="1473" y="303">+</text></g>
<g id="o69"><ellipse cx="1600" cy="171" rx="10.8" ry="6.3"/><text x="1600" y="173">tanh</text></g>
<g id="o70"><ellipse cx="1600" cy="214" rx="10.8" ry="6.3"/><text x="1600" y="216">tanh</text></g>
<g id="o71"><ellipse cx="1600" cy="258" rx="10.8" ry="6.3"/><text x="1600" y="260">tanh</text></g>
<g id="o72"><ellipse cx="1600" cy="301" rx="10.8" ry="6.3"/><text x="1600" y="303">tanh</text></g>
<g id="o73"><ellipse cx="1722" cy="193" rx="10.8" ry="6.3"/><text x="1722" y="195">*</text></g>
<g id="o74"><ellipse cx="1722" cy="236" rx="10.8" ry="6.3"/><text x="1722" y="238">*</text></g>
<g id="o75"><ellipse cx="1722" cy="258" rx="10.8" ry="6.3"/><text x="1722" y="260">*</text></g>
<g id="o76"><ellipse cx="1722" cy="301" rx="10.8" ry="6.3"/><text x="1722" y="303">*</text></g>
<g id="o77"><ellipse cx="1871" cy="264" rx="10.8" ry="6.3"/><text x="1871" y="266">+</text></g>
<g id="o78"><ellipse cx="2019" cy="264" rx="10.8" ry="6.3"/><text x="2019" y="266">+</text></g>
<g id="o79"><ellipse cx="2140" cy="235" rx="10.8" ry="6.3"/><text x="2140" y="237">+</text></g>
<g id="o80"><ellipse cx="2260" cy="214" rx="10.8" ry="6.3"/><text x="2260" y="216">+</text></g>
<g id="o81"><ellipse cx="2381" cy="226" rx="10.8" ry="6.3"/><text x="2381" y="228">+</text></g>
<g id="o82"><ellipse cx="2502" cy="226" rx="10.8" ry="6.3"/><text x="2502" y="228">tanh</text></g>
</svg>
